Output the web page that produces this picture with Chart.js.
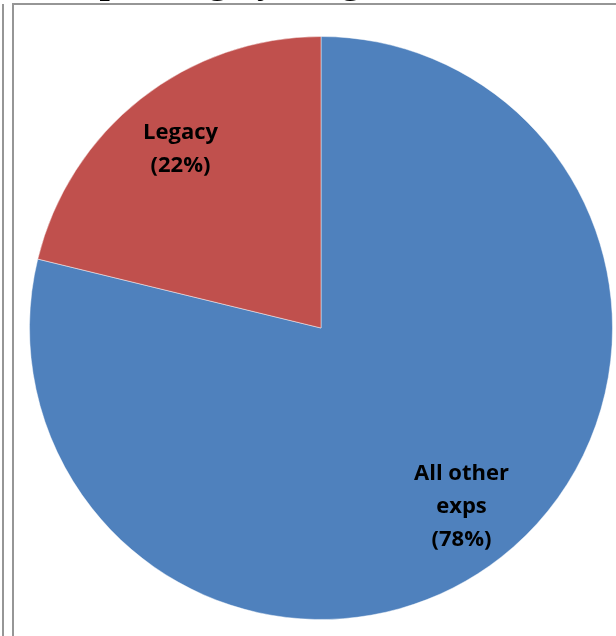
<!DOCTYPE html>
<html>
<head>
<meta charset="utf-8">
<script src="https://cdn.jsdelivr.net/npm/chart.js@4.4.1/dist/chart.umd.min.js"></script>
<style>
  html, body { margin: 0; padding: 0; background: #fff; }
  #wrap { position: relative; width: 616px; height: 636px; overflow: hidden; }
  #pie { position: absolute; left: 0; top: 0; }
  .rule { position: absolute; background: #969696; }
</style>
</head>
<body>
<div id="wrap">
  <div class="rule" style="left:2px; top:4px; width:2px; height:632px;"></div>
  <div class="rule" style="left:12px; top:3px; width:2px; height:633px;"></div>
  <div class="rule" style="left:12px; top:3px; width:604px; height:2px;"></div>
  <canvas id="pie" width="616" height="636"></canvas>
</div>
<script>
// ========================== Datos
const categories = ["All other exps", "Legacy"];
const shares = [78.8, 21.2];
const labelLines = [["All other", "exps", "(78%)"], ["Legacy", "(22%)"]];
const sliceColors = ["#4F81BD", "#C0504D"];
const titleText = "Spending by Program Area";

// ========================== Etiquetas dentro de las porciones
const sliceLabels = {
    id: "sliceLabels",
    afterDatasetsDraw(chart) {
        const ctx = chart.ctx;
        const arcs = chart.getDatasetMeta(0).data;
        ctx.save();
        ctx.fillStyle = "#000";
        ctx.font = "bold 22px 'Open Sans'";
        ctx.textAlign = "center";
        ctx.textBaseline = "middle";
        arcs.forEach(function (arc, i) {
            const mid = (arc.startAngle + arc.endAngle) / 2;
            const r = arc.outerRadius * 0.78;
            const x = arc.x + Math.cos(mid) * r;
            const y = arc.y + Math.sin(mid) * r;
            const lines = labelLines[i];
            const lh = 33;
            lines.forEach(function (t, k) {
                ctx.fillText(t, x, y + (k - (lines.length - 1) / 2) * lh);
            });
        });
        // titulo cortado arriba
        ctx.font = "bold 37px 'Liberation Serif'";
        ctx.textAlign = "left";
        ctx.textBaseline = "alphabetic";
        ctx.fillText(titleText, 79, -7);
        ctx.restore();
    }
};

new Chart(document.getElementById("pie"), {
    type: "pie",
    data: {
        labels: categories,
        datasets: [{
            data: shares,
            backgroundColor: sliceColors,
            borderColor: "rgba(255,255,255,0.45)",
            borderWidth: 1
        }]
    },
    options: {
        responsive: false,
        animation: false,
        layout: { padding: { left: 29, right: 3, top: 36, bottom: 16 } },
        plugins: {
            legend: { display: false },
            tooltip: { enabled: false }
        }
    },
    plugins: [sliceLabels]
});
</script>
</body>
</html>
